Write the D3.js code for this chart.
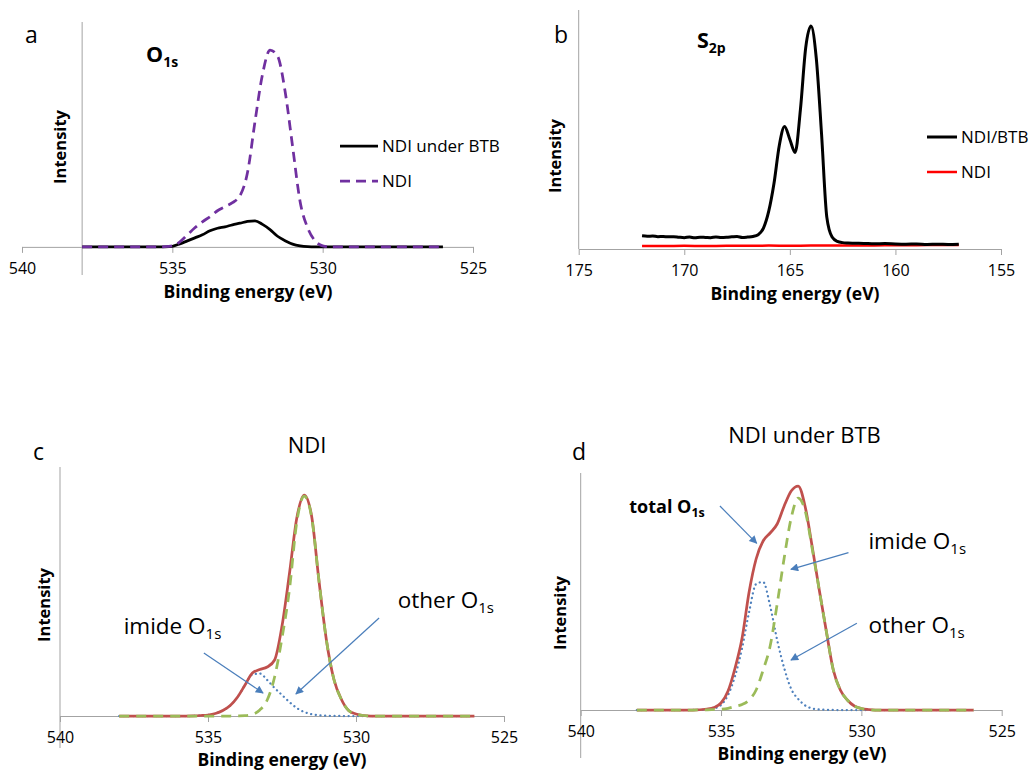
<!DOCTYPE html>
<html>
<head>
<meta charset="utf-8">
<script src="https://cdn.jsdelivr.net/npm/d3@7"></script>
<style>
body { margin: 0; background: #fff; }
svg { display: block; font-family: "Open Sans", "DejaVu Sans", sans-serif; }
.tick text { font-family: "Open Sans", sans-serif; font-size: 16px; fill: #000; }
.axis-title { font-weight: bold; font-size: 17.5px; }
.y-title { font-weight: bold; font-size: 16.5px; }
</style>
</head>
<body>
<script>
// binding energies (eV) shared by the O1s panels a, c, d
var energyO1s = [538, 537, 536, 535.5, 535.25, 535, 534.75, 534.5, 534.25, 534, 533.75, 533.5, 533.25, 533, 532.75, 532.5, 532.25, 532, 531.75, 531.5, 531.25, 531, 530.75, 530.5, 530.25, 530, 529.75, 529.5, 529, 528, 527, 526];

// panel a (a.u.)
var o1sNdiUnderBtb = [0, 0, 0, 0, 0.05, 0.3, 1.5, 3, 4.5, 6, 8, 9.3, 10, 11, 11.8, 12.7, 13, 11.2, 8.6, 5.3, 3.1, 1.4, 0.5, 0.1, 0, 0, 0, 0, 0, 0, 0, 0];
var o1sNdi = [0, 0, 0, 0, 0.1, 0.5, 2.5, 6, 9.5, 12.5, 15, 18, 20, 22, 25.5, 37, 62.5, 86, 98, 95, 77.5, 50, 22.5, 9.5, 3, 0.5, 0, 0, 0, 0, 0, 0];

// panel b
var energyS2p = [172, 171.75, 171.5, 171.25, 171, 170.75, 170.5, 170.25, 170, 169.75, 169.5, 169.25, 169, 168.75, 168.5, 168.25, 168, 167.75, 167.5, 167.25, 167, 166.75, 166.5, 166.25, 166, 165.75, 165.5, 165.25, 165, 164.75, 164.5, 164.25, 164, 163.75, 163.5, 163.25, 163, 162.75, 162.5, 162.25, 162, 161.5, 161, 160.5, 160, 159.5, 159, 158.5, 158, 157.5, 157];
var s2pNdiBtb = [6.6, 6.4, 6.5, 6.2, 6.3, 6.1, 6.2, 5.9, 5.7, 6.0, 5.6, 5.9, 5.8, 5.7, 6.0, 5.8, 5.9, 6.1, 6.3, 5.8, 6.0, 6.3, 7.2, 10.5, 19, 33, 52, 61.5, 55, 48.5, 70, 101, 112, 96, 58, 16, 6, 3.8, 3.2, 3.0, 2.9, 2.8, 2.6, 2.7, 2.5, 2.4, 2.5, 2.3, 2.4, 2.3, 2.4];
var energyS2pNdi = [172, 171, 170, 169, 168, 167, 166, 165, 164, 163, 162, 161, 160, 159, 158, 157];
var s2pNdi = [1.5, 1.5, 1.6, 1.5, 1.6, 1.6, 1.7, 1.6, 1.7, 1.7, 1.8, 1.8, 1.9, 1.9, 2.0, 2.0];

// panel c : NDI fit
var totalC = [0, 0, 0, 0.2, 0.5, 1, 2.5, 5.5, 10.5, 19, 31, 43, 46.5, 49, 56, 90, 142, 198, 221, 200, 135, 76, 37, 17, 5.5, 2, 0.5, 0, 0, 0, 0, 0];
var imideC = [0, 0, 0, 0, 0, 0, 0, 0, 0, 0.1, 0.3, 1.5, 6, 16, 39, 78, 126, 194, 220, 199, 135, 76, 37, 17, 5.5, 2, 0.5, 0, 0, 0, 0, 0];
var otherC = [0, 0, 0, 0, 0.4, 1, 2.5, 5.5, 10.5, 19, 31, 41.5, 42.5, 36, 28, 21, 14, 8, 4, 1.8, 0.8, 0.3, 0.1, 0, 0, 0, 0, 0, 0, 0, 0, 0];

// panel d : NDI under BTB fit
var totalD = [0, 0, 0, 1, 2.5, 7, 19, 42, 72, 118, 151, 169, 177, 186, 204, 219, 224, 203, 163, 120, 79, 40, 20, 10, 4, 1.5, 0.5, 0, 0, 0, 0, 0];
var imideD = [0, 0, 0, 0.2, 0.5, 0.8, 1.7, 3.5, 5.5, 10, 20, 40, 64, 106, 152, 192, 212, 199, 161, 120, 79, 40, 20, 10, 4, 1.5, 0.5, 0, 0, 0, 0, 0];
var otherD = [0, 0, 0, 0.5, 1.5, 5, 15, 34, 62, 98, 126, 128, 104, 70, 42, 21, 11, 4.5, 1.5, 0.6, 0.2, 0, 0, 0, 0, 0, 0, 0, 0, 0, 0, 0];

var o1sTicks = [540, 535, 530, 525];
var s2pTicks = [175, 170, 165, 160, 155];

var width = 1031;
var height = 772;
var axisColor = "#a3a3a3";
var arrowColor = "#4a7ebb";

var svg = d3.select("body").append("svg")
  .attr("width", width)
  .attr("height", height);

svg.append("defs").append("marker")
  .attr("id", "arrowHead")
  .attr("viewBox", "0 0 10 10")
  .attr("refX", 9)
  .attr("refY", 5)
  .attr("markerUnits", "userSpaceOnUse")
  .attr("markerWidth", 10)
  .attr("markerHeight", 8)
  .attr("orient", "auto")
  .append("path")
  .attr("d", "M0,0 L10,5 L0,10 z")
  .attr("fill", arrowColor);

function subText(g, px, py, main, sub, size, subSize, bold) {
  var t = g.append("text")
    .attr("x", px)
    .attr("y", py)
    .attr("font-size", size)
    .attr("font-weight", bold ? "bold" : "normal");
  t.append("tspan").text(main);
  t.append("tspan")
    .attr("font-size", subSize)
    .attr("dy", size * 0.22)
    .text(sub);
  return t;
}

function drawPanel(p) {
  var x = d3.scaleLinear().domain(p.xDomain).range(p.xRange);
  var y = d3.scaleLinear().domain(p.yDomain).range(p.yRange);
  var g = svg.append("g");

  // vertical axis line, no ticks
  g.append("line")
    .attr("x1", x(p.yAxisAt))
    .attr("x2", x(p.yAxisAt))
    .attr("y1", y(p.yDomain[1]))
    .attr("y2", y(p.yDomain[0]))
    .attr("stroke", axisColor);

  var xAxis = d3.axisBottom(x)
    .tickValues(p.ticks)
    .tickSize(6)
    .tickSizeOuter(0)
    .tickPadding(p.tickPad)
    .tickFormat(d3.format("d"));
  var ax = g.append("g")
    .attr("transform", "translate(0," + y(0) + ")")
    .call(xAxis);
  ax.select(".domain").attr("stroke", axisColor);
  ax.selectAll(".tick line").attr("stroke", axisColor);

  g.append("text")
    .attr("class", "axis-title")
    .attr("x", p.xTitle[0])
    .attr("y", p.xTitle[1])
    .attr("text-anchor", "middle")
    .text("Binding energy (eV)");

  g.append("text")
    .attr("class", "y-title")
    .attr("transform", "translate(" + p.yTitle[0] + "," + p.yTitle[1] + ") rotate(-90)")
    .attr("text-anchor", "middle")
    .attr("dy", "0.35em")
    .text("Intensity");

  var line = d3.line()
    .x(function(d) { return x(d[0]); })
    .y(function(d) { return y(d[1]); })
    .curve(d3.curveMonotoneX);

  p.series.forEach(function(s) {
    g.append("path")
      .datum(d3.zip(s.x, s.y))
      .attr("d", line)
      .attr("fill", "none")
      .attr("stroke", s.color)
      .attr("stroke-width", s.width)
      .attr("stroke-dasharray", s.dash || null)
      .attr("stroke-linecap", s.cap || "butt")
      .attr("stroke-linejoin", "round");
  });

  (p.arrows || []).forEach(function(a) {
    g.append("line")
      .attr("x1", x(a[0]))
      .attr("y1", y(a[1]))
      .attr("x2", x(a[2]))
      .attr("y2", y(a[3]))
      .attr("stroke", arrowColor)
      .attr("stroke-width", 1.2)
      .attr("marker-end", "url(#arrowHead)");
  });

  (p.notes || []).forEach(function(n) {
    subText(g, x(n.at[0]), y(n.at[1]), n.main, n.sub, n.size, n.subSize, n.bold);
  });

  g.append("text")
    .attr("x", p.letter[0])
    .attr("y", p.letter[1])
    .attr("font-size", 23)
    .text(p.letterText);

  if (p.title) {
    g.append("text")
      .attr("x", p.title[0])
      .attr("y", p.title[1])
      .attr("text-anchor", "middle")
      .attr("font-size", 22)
      .text(p.titleText);
  }

  (p.legend || []).forEach(function(l, i) {
    var ly = p.legendAt[1] + i * p.legendStep;
    g.append("line")
      .attr("x1", p.legendAt[0])
      .attr("x2", p.legendAt[0] + p.legendLen)
      .attr("y1", ly)
      .attr("y2", ly)
      .attr("stroke", l.color)
      .attr("stroke-width", l.width)
      .attr("stroke-dasharray", l.dash || null);
    g.append("text")
      .attr("x", p.legendAt[0] + p.legendLen + 4)
      .attr("y", ly)
      .attr("dy", "0.36em")
      .attr("font-size", 17)
      .text(l.name);
  });
}

// a
var purpleDash = { name: "NDI", x: energyO1s, y: o1sNdi, color: "#7030a0", width: 2.75, dash: "10,6" };
var blackA = { name: "NDI under BTB", x: energyO1s, y: o1sNdiUnderBtb, color: "#000", width: 2.75 };
drawPanel({
  xDomain: [540, 525], xRange: [22, 473],
  yDomain: [-14, 112], yRange: [275, 22],
  yAxisAt: 538, ticks: o1sTicks, tickPad: 10,
  xTitle: [248, 298], yTitle: [60, 147],
  letter: [25, 43], letterText: "a",
  series: [blackA, purpleDash],
  legend: [blackA, purpleDash], legendAt: [340, 146], legendLen: 38, legendStep: 35
});
subText(svg, 146, 62, "O", "1s", 21.5, 14, true);

// b
var blackB = { name: "NDI/BTB", x: energyS2p, y: s2pNdiBtb, color: "#000", width: 3 };
var redB = { name: "NDI", x: energyS2pNdi, y: s2pNdi, color: "#ff0000", width: 2.5 };
drawPanel({
  xDomain: [175, 155], xRange: [578.7, 1001],
  yDomain: [0, 120], yRange: [249, 10],
  yAxisAt: 175, ticks: s2pTicks, tickPad: 9.5,
  xTitle: [795, 299.5], yTitle: [555, 156],
  letter: [554, 43], letterText: "b",
  series: [redB, blackB],
  legend: [blackB, redB], legendAt: [927, 137], legendLen: 30, legendStep: 35
});
subText(svg, 697, 48, "S", "2p", 21.5, 14, true);

// c
var redLine = "#c0504d";
var greenLine = "#9bbb59";
var blueLine = "#4f81bd";
drawPanel({
  xDomain: [540, 525], xRange: [60, 504],
  yDomain: [-32, 249], yRange: [748, 467],
  yAxisAt: 540, ticks: o1sTicks, tickPad: 10,
  xTitle: [282, 766], yTitle: [44, 605],
  letter: [33, 460], letterText: "c",
  title: [307, 453], titleText: "NDI",
  series: [
    { x: energyO1s, y: otherC, color: blueLine, width: 2.25, dash: "0.1,4.6", cap: "round" },
    { x: energyO1s, y: totalC, color: redLine, width: 2.75 },
    { x: energyO1s, y: imideC, color: greenLine, width: 2.75, dash: "10,7" }
  ],
  arrows: [[535.14, 63, 533.14, 23], [529.22, 98, 532.03, 22]],
  notes: [
    { at: [537.85, 82], main: "imide O", sub: "1s", size: 22.5, subSize: 15 },
    { at: [528.59, 107.7], main: "other O", sub: "1s", size: 22.5, subSize: 15 }
  ]
});

// d
drawPanel({
  xDomain: [540, 525], xRange: [580.7, 1001.7],
  yDomain: [-48, 237], yRange: [758, 473],
  yAxisAt: 540, ticks: o1sTicks, tickPad: 9.5,
  xTitle: [802, 760], yTitle: [560, 613],
  letter: [572, 460], letterText: "d",
  title: [804.5, 443], titleText: "NDI under BTB",
  series: [
    { x: energyO1s, y: otherD, color: blueLine, width: 2.25, dash: "0.1,4.6", cap: "round" },
    { x: energyO1s, y: totalD, color: redLine, width: 2.75 },
    { x: energyO1s, y: imideD, color: greenLine, width: 2.75, dash: "10,7" }
  ],
  arrows: [[535.04, 204, 533.73, 166.7], [530.46, 157.3, 532.51, 140.7], [530.16, 86.7, 532.51, 50]],
  notes: [
    { at: [538.27, 196.7], main: "total O", sub: "1s", size: 18, subSize: 12.5, bold: true },
    { at: [529.75, 160.7], main: "imide O", sub: "1s", size: 22.5, subSize: 15 },
    { at: [529.75, 77.3], main: "other O", sub: "1s", size: 22.5, subSize: 15 }
  ]
});
</script>
</body>
</html>
